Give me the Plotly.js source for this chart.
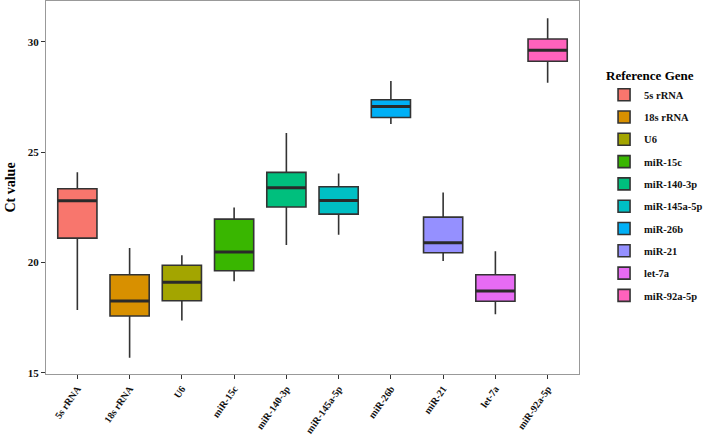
<!DOCTYPE html>
<html>
<head>
<meta charset="utf-8">
<script src="https://cdn.plot.ly/plotly-3.0.1.min.js"></script>
<style>html,body{margin:0;padding:0;background:#fff;}#chart{width:709px;height:436px;}</style>
</head>
<body>
<div id="chart"></div>
<script>
const genes = ["5s rRNA","18s rRNA","U6","miR-15c","miR-140-3p","miR-145a-5p","miR-26b","miR-21","let-7a","miR-92a-5p"];
const lowerWhisker = [17.84,15.68,17.36,19.15,20.79,21.25,26.27,20.06,17.65,28.14];
const q1Values     = [21.10,17.57,18.26,19.62,22.51,22.19,26.57,20.44,18.24,29.12];
const medianValues = [22.79,18.25,19.10,20.47,23.38,22.81,27.07,20.89,18.70,29.62];
const q3Values     = [23.34,19.44,19.87,21.96,24.08,23.43,27.37,22.05,19.44,30.13];
const upperWhisker = [24.09,20.65,20.32,22.49,25.87,24.03,28.22,23.17,20.51,31.07];
const colors = ["#F8766D","#D89000","#A3A500","#39B600","#00BF7D","#00BFC4","#00B0F6","#9590FF","#E76BF3","#FF62BC"];

const serif = "Liberation Serif, Times New Roman, serif";
const boxWidth = 0.75;
const traces = genes.map((g, i) => ({
  type: "box",
  name: g,
  legendgroup: g,
  x: [g],
  q1: [q1Values[i]],
  median: [medianValues[i]],
  q3: [q3Values[i]],
  lowerfence: [lowerWhisker[i]],
  upperfence: [upperWhisker[i]],
  width: boxWidth,
  whiskerwidth: 0,
  fillcolor: colors[i],
  line: {color: "#333333", width: 1.6},
  hoverinfo: "skip"
}));

// thicker median bars (as in ggplot), placed through the axis scales
const medianShapes = genes.map((g, i) => ({
  type: "line", xref: "x", yref: "y",
  x0: i - boxWidth / 2, x1: i + boxWidth / 2,
  y0: medianValues[i], y1: medianValues[i],
  line: {color: "#2a2a2a", width: 3}
}));

const layout = {
  width: 709, height: 436,
  margin: {l: 46, r: 108, t: 1, b: 62},
  paper_bgcolor: "#ffffff", plot_bgcolor: "#ffffff",
  boxmode: "overlay",
  showlegend: true,
  font: {family: serif, color: "#000"},
  shapes: medianShapes,
  xaxis: {
    type: "category",
    categoryarray: genes, categoryorder: "array",
    range: [-0.6, 9.6],
    showgrid: false, zeroline: false,
    showline: true, mirror: true, linecolor: "#999999", linewidth: 1,
    ticks: "outside", ticklen: 4, tickcolor: "#333", tickwidth: 1,
    tickangle: -55,
    tickfont: {family: serif, size: 10, weight: "bold", color: "#111"}
  },
  yaxis: {
    range: [14.94, 31.85],
    tickvals: [15, 20, 25, 30],
    showgrid: false, zeroline: false,
    showline: true, mirror: true, linecolor: "#999999", linewidth: 1,
    ticks: "outside", ticklen: 4, tickcolor: "#333", tickwidth: 1,
    tickfont: {family: serif, size: 11, weight: "bold", color: "#111"},
    title: {text: "Ct value", font: {family: serif, size: 14, weight: "bold", color: "#000"}, standoff: 8}
  },
  legend: {
    x: 1.047, xanchor: "left", y: 0.833, yanchor: "top",
    title: {text: "Reference Gene", font: {family: serif, size: 13, weight: "bold", color: "#000"}},
    font: {family: serif, size: 10.5, weight: "bold", color: "#111"},
    tracegroupgap: 3.3,
    bgcolor: "rgba(0,0,0,0)"
  }
};

Plotly.newPlot("chart", traces, layout, {staticPlot: true, displayModeBar: false});
</script>
</body>
</html>
